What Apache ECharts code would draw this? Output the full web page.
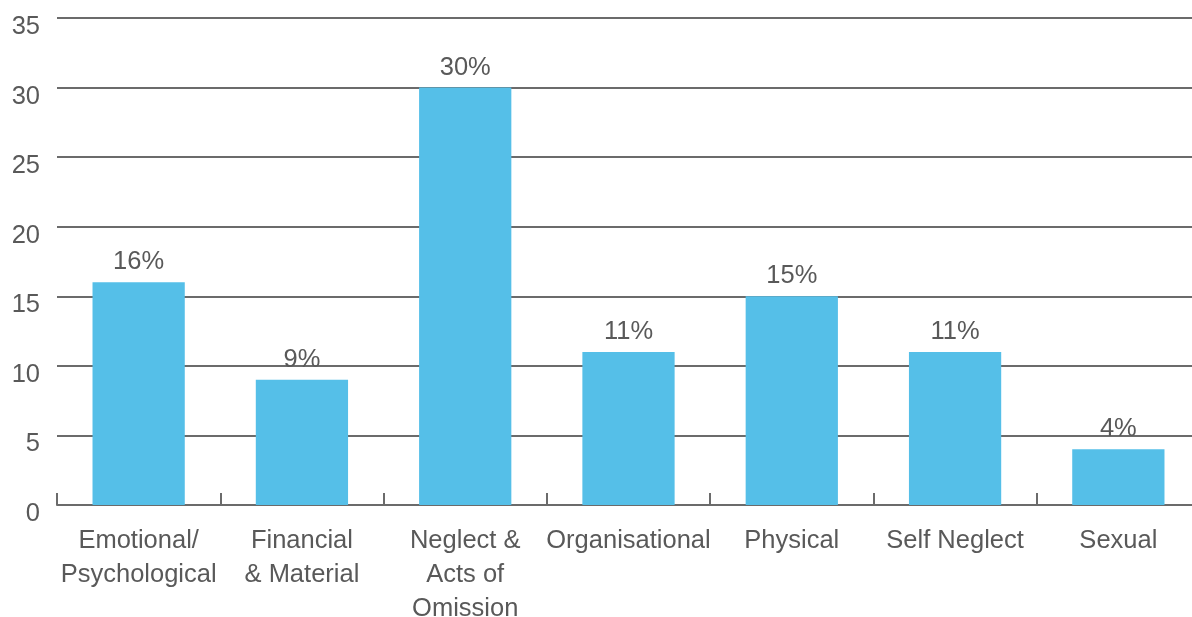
<!DOCTYPE html>
<html>
<head>
<meta charset="utf-8">
<script src="https://cdn.jsdelivr.net/npm/echarts@6/dist/echarts.min.js"></script>
<style>
html,body{margin:0;padding:0;background:#fff;}
#chart{width:1192px;height:617px;}
</style>
</head>
<body>
<div id="chart"></div>
<script>
const categories = ['Emotional/\nPsychological', 'Financial\n& Material', 'Neglect &\nActs of\nOmission', 'Organisational', 'Physical', 'Self Neglect', 'Sexual'];
const values = [16, 9, 30, 11, 15, 11, 4];
const yTicks = [0, 5, 10, 15, 20, 25, 30, 35];

const chart = echarts.init(document.getElementById('chart'));
chart.setOption({
  animation: false,
  textStyle: { fontFamily: 'Liberation Sans, Arial, sans-serif' },
  grid: { left: 57, right: -8, top: 18, bottom: 112, containLabel: false, outerBoundsMode: 'none' },
  xAxis: {
    type: 'category',
    data: categories,
    axisLine: { lineStyle: { color: '#6b6b6b', width: 2 } },
    axisTick: { show: true, inside: true, length: 12, alignWithLabel: false, lineStyle: { color: '#6b6b6b', width: 2 } },
    axisLabel: { color: '#595959', fontSize: 25.5, lineHeight: 34, margin: 19, interval: 0 }
  },
  yAxis: {
    type: 'value',
    min: yTicks[0],
    max: yTicks[yTicks.length - 1],
    interval: 5,
    axisLine: { show: false },
    axisTick: { show: false },
    axisLabel: { color: '#595959', fontSize: 25.5, margin: 17, verticalAlign: 'top', lineHeight: 18 },
    splitLine: { lineStyle: { color: '#6b6b6b', width: 2 } }
  },
  series: [{
    type: 'bar',
    data: values,
    barWidth: '56.5%',
    itemStyle: { color: '#55BFE8' },
    label: {
      show: true,
      position: 'top',
      distance: 7,
      formatter: p => p.value + '%',
      color: '#595959',
      fontSize: 25.5
    }
  }]
});
</script>
</body>
</html>
